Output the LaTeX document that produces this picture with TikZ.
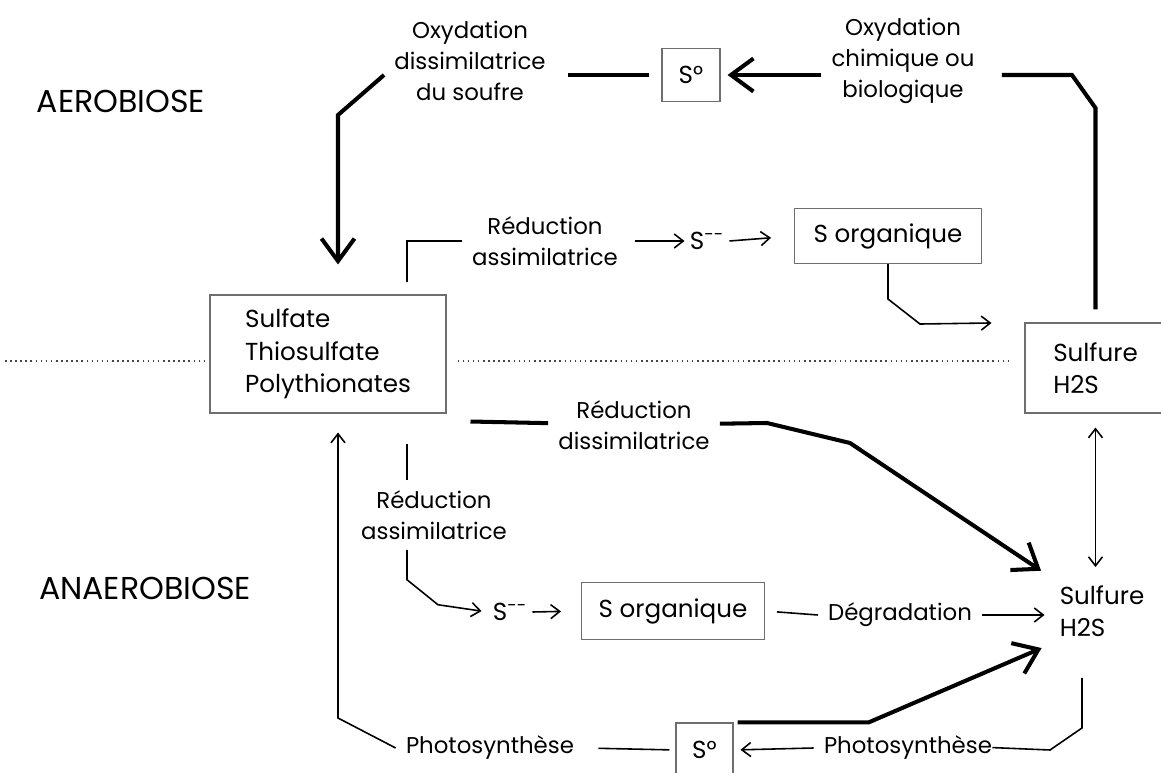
\documentclass[tikz,border=0pt]{standalone}
\usepackage{fontspec}
\setmainfont{Poppins}
\usetikzlibrary{arrows.meta, positioning, calc}
\definecolor{boxgray}{RGB}{110,110,110}
\definecolor{dotgray}{RGB}{70,70,70}
\newcommand{\zonefnt}{\fontsize{18}{21}\selectfont}
\newcommand{\boxfnt}{\fontsize{14}{18.5}\selectfont}
\newcommand{\lblfnt}{\fontsize{13}{17.5}\selectfont}
\tikzstyle{proc} = [rectangle, draw=boxgray, line width=0.6pt, align=left, font=\boxfnt, inner sep=2pt]
\tikzstyle{species} = [align=left, font=\boxfnt]
\tikzstyle{lbl} = [align=center, font=\lblfnt, inner sep=0.2cm]
\tikzstyle{ion} = [font=\boxfnt, inner sep=0.1cm]
\tikzstyle{zone} = [font=\zonefnt]
\tikzstyle{heavy} = [line width=2.3pt]
\tikzstyle{heavyarrow} = [line width=2.3pt, -{Straight Barb[length=4.5mm, width=6.6mm]}]
\tikzstyle{fine} = [line width=0.9pt]
\tikzstyle{finearrow} = [line width=0.9pt, -{Straight Barb[length=1.8mm, width=2.8mm]}]
\tikzstyle{bothway} = [line width=0.9pt, {Straight Barb[length=1.8mm, width=2.8mm]}-{Straight Barb[length=1.8mm, width=2.8mm]}]
\tikzstyle{dotline} = [dotgray, line width=0.9pt, dotted]

\begin{document}
\begin{tikzpicture}[x=0.02cm, y=-0.02cm]
\useasboundingbox (0,0) rectangle (1161,773);

% Zones
\node[zone] (aero) at (121,101) {AEROBIOSE};
\node[zone] (anaero) at (145,588) {ANAEROBIOSE};

% Compartments
\node[proc, minimum width=4.72cm, minimum height=2.36cm] (sulf) at (328,354) {Sulfate\\Thiosulfate\\Polythionates};
\node[proc, minimum width=2.82cm, minimum height=1.8cm] (h2s_up) at (1095.5,368) {Sulfure\\H2S};
\node[species] (h2s_low) at (1102,611) {Sulfure\\H2S};

% Elemental sulfur
\node[proc, minimum width=1.16cm, minimum height=1.06cm] (s0_up) at (691,75) {S°};
\node[proc, minimum width=1.14cm, minimum height=1.08cm] (s0_low) at (704.5,750) {S°};

% Organic sulfur
\node[proc, minimum width=3.74cm, minimum height=1.1cm] (sorg_up) at (888,236) {S organique};
\node[proc, minimum width=3.66cm, minimum height=1.14cm] (sorg_low) at (673,611) {S organique};

% Sulfides
\node[ion] (sm_up) at (707,241) {S\textsuperscript{-{}-}};
\node[ion] (sm_low) at (510,612) {S\textsuperscript{-{}-}};

% Process labels
\node[lbl] (ox_dis) at (470,61) {Oxydation\\dissimilatrice\\du soufre};
\node[lbl] (ox_chim) at (903,61) {Oxydation\\chimique ou\\biologique};
\node[lbl] (red_ass_up) at (545,241) {Réduction\\assimilatrice};
\node[lbl] (red_dis) at (634,425) {Réduction\\dissimilatrice};
\node[lbl] (red_ass_low) at (434,515) {Réduction\\assimilatrice};
\node[lbl] (degr) at (900,615) {Dégradation};
\node[lbl] (photo_left) at (490,748) {Photosynthèse};
\node[lbl] (photo_right) at (908,748) {Photosynthèse};

% Bends
\coordinate (sep) at (5,361);
\coordinate (ox_knee) at (338,115);
\coordinate (ox_top) at (1072,75);
\coordinate (ox_side) at (1095.5,108);
\coordinate (ass_x) at (407,241);
\coordinate (dis_knee) at (767,423);
\coordinate (dis_bend) at (850,443);
\coordinate (photo_drop) at (1082,728);
\coordinate (photo_knee) at (338,718);

% Aerobic cycle
\draw[heavy, shorten <=0.24cm, shorten >=0.24cm] (s0_up.west) -- (s0_up.west -| ox_dis.east);
\draw[heavyarrow, shorten >=0.6cm] (s0_up.west -| ox_dis.west) -- (ox_knee) -- (ox_knee |- sulf.north);
\draw[heavy, shorten <=0.26cm, shorten >=0.34cm] (h2s_up.north) -- (ox_side) -- (ox_top) -- (ox_top -| ox_chim.east);
\draw[heavyarrow, shorten >=0.14cm] (s0_up.east -| ox_chim.west) -- (s0_up.east);

% Assimilation (aerobic)
\draw[fine, shorten <=0.24cm] (sulf.north -| ass_x) -- (ass_x) -- (red_ass_up.west);
\draw[finearrow, shorten <=0.14cm] (red_ass_up.east) -- (sm_up.west);
\draw[finearrow, shorten >=0.46cm] (sm_up.east) -- (sorg_up.west);
\draw[finearrow, shorten >=0.66cm] (sorg_up.south) -- ++(0,35) -- ++(32,25) -- (h2s_up.north west);

% Separation
\draw[dotline, shorten >=0.06cm] (sep) -- (sep -| sulf.west);
\draw[dotline, shorten <=0.22cm, shorten >=0.3cm] (sep -| sulf.east) -- (sep -| h2s_up.west);

% Dissimilatory reduction
\draw[heavyarrow, shorten >=0.3cm] ([shift={(24,8)}]sulf.south east) -- (red_dis) -- (dis_knee) -- (dis_bend) -- (h2s_low.north west);

% Assimilation (anaerobic)
\draw[fine, shorten <=0.6cm] (sulf.south -| ass_x) -- (red_ass_low.north -| ass_x);
\draw[finearrow, shorten >=0.12cm] (red_ass_low.south -| ass_x) -- ++(0,30) -- ++(31,25) -- (sm_low.west);
\draw[finearrow, shorten >=0.4cm] (sm_low.east) -- (sorg_low.west);
\draw[fine, shorten <=0.24cm] (sorg_low.east) -- (degr.west);
\draw[finearrow, shorten >=0.18cm] (degr.east) -- (degr.east -| h2s_low.west);
\draw[bothway, shorten <=0.28cm, shorten >=0.24cm] (h2s_up.south) -- (h2s_up.south |- h2s_low.north);

% Photosynthesis
\draw[heavyarrow, shorten <=0.08cm, shorten >=0.26cm] (s0_low.north east) -- ++(135,0) -- (h2s_low.south west);
\draw[fine, shorten <=0.7cm, shorten >=-0.2cm] (photo_drop |- h2s_low.south) -- (photo_drop) -- ++(-32,22) -- (photo_right.east);
\draw[finearrow, shorten >=0.14cm] (photo_right.west) -- (s0_low.east);
\draw[fine, shorten <=0.12cm, shorten >=0.28cm] (s0_low.west) -- (photo_left.east);
\draw[finearrow, shorten >=0.38cm] (photo_left.west) -- (photo_knee) -- (photo_knee |- sulf.south);

\end{tikzpicture}
\end{document}
